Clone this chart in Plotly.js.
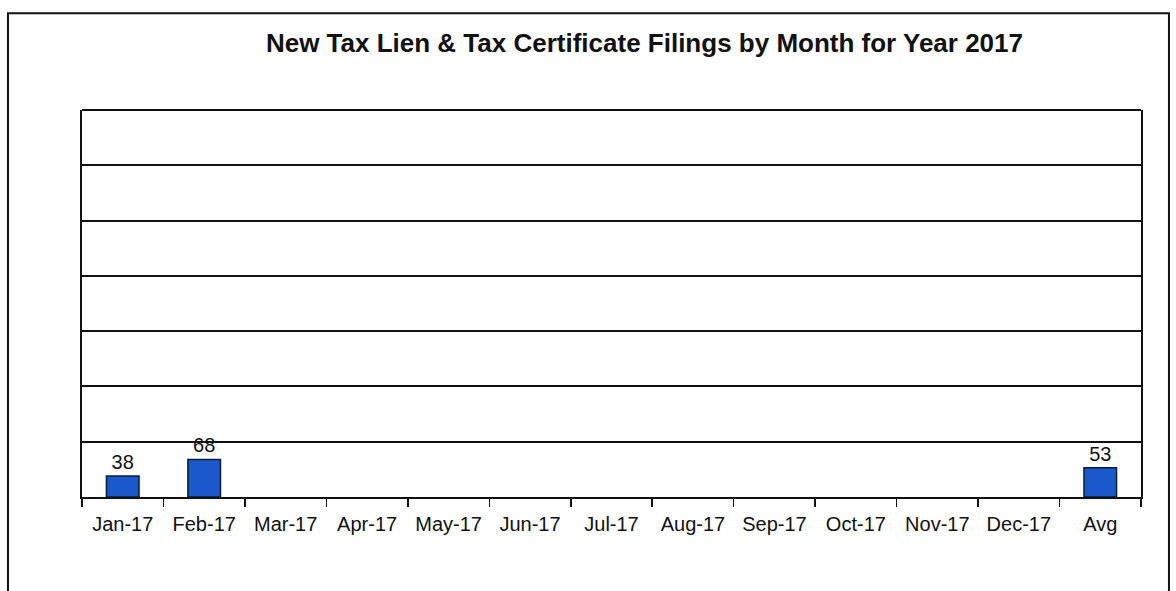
<!DOCTYPE html>
<html>
<head>
<meta charset="utf-8">
<script src="https://cdn.plot.ly/plotly-3.0.1.min.js"></script>
<style>
  body { margin: 0; background: #fff; }
  #plot { width: 1176px; height: 591px; }
</style>
</head>
<body>
<div id="plot"></div>
<script>
// monthly filings, 2017 (only Jan and Feb reported so far)
var months = ["Jan-17", "Feb-17", "Mar-17", "Apr-17", "May-17", "Jun-17",
              "Jul-17", "Aug-17", "Sep-17", "Oct-17", "Nov-17", "Dec-17", "Avg"];
var filings = [38, 68, null, null, null, null, null, null, null, null, null, null, 53];
var labels = ["38", "68", "", "", "", "", "", "", "", "", "", "", "53"];

var trace = {
  x: months,
  y: filings,
  type: "bar",
  width: 0.4,
  text: labels,
  textposition: "outside",
  cliponaxis: false,
  textfont: { family: "Liberation Sans, Arial", size: 20, color: "#111" },
  marker: {
    color: "#1b58cc",
    line: { color: "#0a1a3a", width: 1.5 }
  },
  hoverinfo: "x+y"
};

var layout = {
  width: 1176,
  height: 591,
  margin: { l: 82, r: 35, t: 110, b: 94 },
  paper_bgcolor: "#fff",
  plot_bgcolor: "#fff",
  showlegend: false,
  font: { family: "Liberation Sans, Arial", size: 20, color: "#111" },
  title: {
    text: "<b>New Tax Lien & Tax Certificate Filings by Month for Year 2017</b>",
    font: { family: "Liberation Sans, Arial", size: 26, color: "#111" },
    x: 0.548, xanchor: "center",
    y: 0.927, yanchor: "middle"
  },
  xaxis: {
    type: "category",
    tickson: "boundaries",
    ticks: "outside",
    ticklen: 8,
    tickwidth: 1.5,
    tickcolor: "#111",
    ticklabelstandoff: 8,
    showline: true,
    linecolor: "#111",
    linewidth: 2,
    showgrid: false,
    tickfont: { size: 20 }
  },
  yaxis: {
    range: [0, 700],
    dtick: 100,
    showticklabels: false,
    showgrid: true,
    gridcolor: "#111",
    gridwidth: 2,
    zeroline: false,
    showline: true,
    linecolor: "#111",
    linewidth: 2,
    mirror: true
  },
  shapes: [
    // outer chart frame
    { type: "rect", xref: "paper", yref: "paper",
      x0: -0.0699, x1: 1.0264, y0: -0.3, y1: 1.25,
      line: { color: "#111", width: 2 } },
    // plot area top border
    { type: "line", xref: "paper", yref: "paper",
      x0: 0, x1: 1, y0: 1, y1: 1,
      line: { color: "#111", width: 2 } }
  ]
};

Plotly.newPlot("plot", [trace], layout, { displayModeBar: false, staticPlot: true });
</script>
</body>
</html>
